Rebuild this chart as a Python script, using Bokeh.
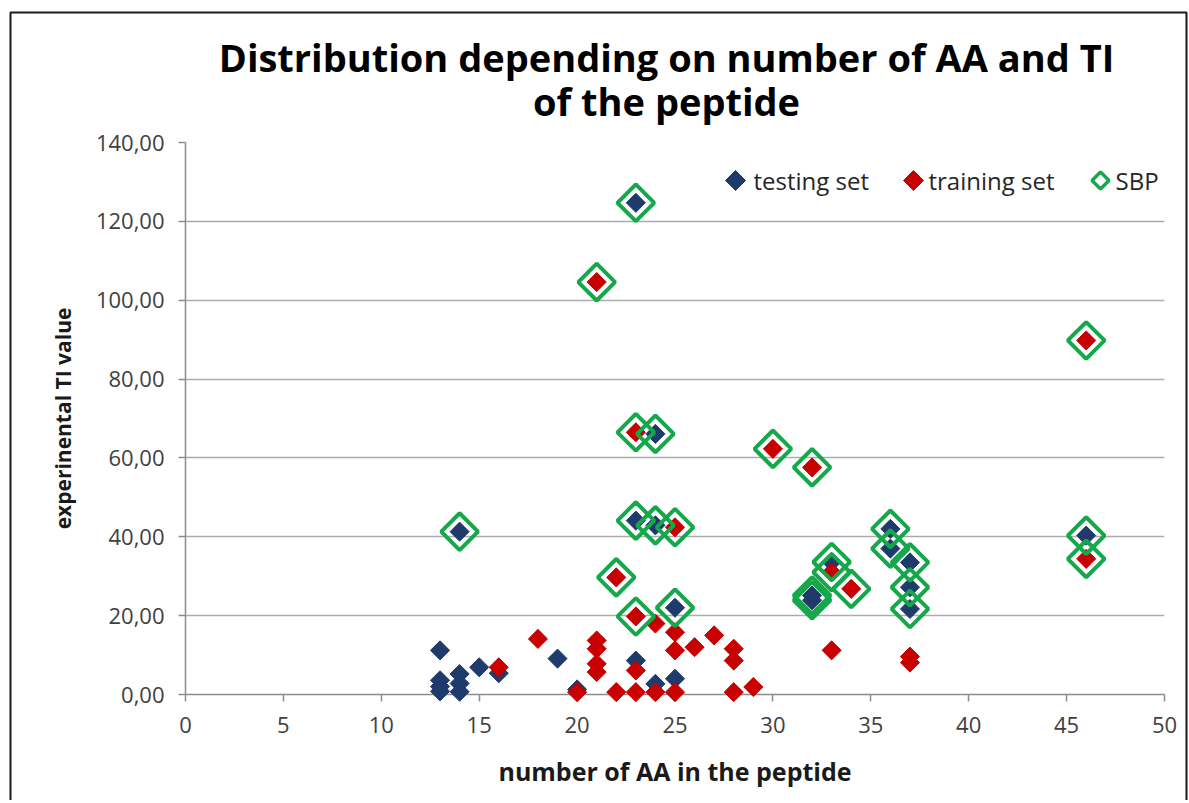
import math
from bokeh.plotting import figure
from bokeh.models import FixedTicker, Label, PolyAnnotation, Range1d
from bokeh.core.properties import value
from bokeh.embed import file_html
from bokeh.resources import INLINE

# ---------------- data ----------------
title_lines = ["Distribution depending on number of AA and TI", "of the peptide"]
x_label = "number of AA in the peptide"
y_label = "experinental TI value"
series_names = ["testing set", "training set", "SBP"]

testing_x = [13, 13, 13, 13, 14, 14, 14, 15, 16, 19, 20, 23, 24, 25,
             23, 24, 23, 24, 14, 25, 33, 32, 32, 36, 36, 37, 37, 37, 46]
testing_y = [11.2, 3.6, 2.0, 0.8, 5.2, 2.8, 0.7, 6.9, 5.4, 9.1, 1.3, 8.6, 2.7, 4.0,
             124.7, 66.1, 44.1, 42.9, 41.3, 22.0, 33.6, 25.1, 23.9, 42.0, 37.0, 33.5, 27.2, 21.7, 40.3]

training_x = [16, 18, 20, 21, 21, 21, 21, 22, 23, 23, 24, 24, 25, 25, 25, 26, 27,
              28, 28, 28, 29, 33, 37, 37,
              21, 46, 23, 30, 32, 25, 22, 23, 33, 34, 46]
training_y = [6.9, 14.1, 0.6, 13.7, 11.6, 7.8, 5.7, 0.6, 6.1, 0.6, 18.0, 0.6, 15.8, 11.2, 0.6, 12.0, 15.0,
              11.6, 8.6, 0.6, 1.9, 11.2, 9.6, 8.1,
              104.6, 89.8, 66.5, 62.3, 57.6, 42.4, 29.7, 19.8, 31.0, 26.8, 34.4]

sbp_x = [23, 21, 46, 23, 24, 30, 32, 23, 24, 25, 14, 36, 36, 46, 46, 37, 33,
         33, 22, 34, 37, 32, 32, 25, 37, 23]
sbp_y = [124.7, 104.6, 89.8, 66.5, 66.1, 62.3, 57.6, 44.1, 42.9, 42.4, 41.3, 42.0, 37.0, 40.3, 34.4, 33.5, 33.6,
         31.0, 29.7, 26.8, 27.2, 25.1, 23.9, 22.0, 21.7, 19.8]

x_ticks = [0, 5, 10, 15, 20, 25, 30, 35, 40, 45, 50]
y_ticks = [0, 20, 40, 60, 80, 100, 120, 140]
y_tick_labels = ["0,00", "20,00", "40,00", "60,00", "80,00", "100,00", "120,00", "140,00"]

# ---------------- style ----------------
BLUE = "#1F3B6B"
RED = "#C80000"
GREEN = "#14A84B"
FONT = "Open Sans"
TICK_COLOR = "#404040"
AXIS_COLOR = "#8C8C8C"
GRID_COLOR = "#ABABAB"

X0, X1, Y0, Y1 = 0, 50, 0, 140
W, H = 1188, 800
FL, FR, FT, FB = 185, 1164, 142, 694   # frame edges in canvas px


def px_to_x(px):
    return X0 + (px - FL) * (X1 - X0) / (FR - FL)


def py_to_y(py):
    return Y0 + (FB - py) * (Y1 - Y0) / (FB - FT)


p = figure(width=W, height=H, output_backend="svg", toolbar_location=None,
           x_range=Range1d(X0, X1), y_range=Range1d(Y0, Y1),
           min_border_left=FL, min_border_right=W - FR, min_border_top=FT, min_border_bottom=H - FB,
           background_fill_color="white", border_fill_color="white", outline_line_color=None)

p.xgrid.visible = False
p.ygrid.grid_line_color = GRID_COLOR
p.ygrid.grid_line_width = 1.5

p.xaxis.ticker = FixedTicker(ticks=x_ticks)
p.yaxis.ticker = FixedTicker(ticks=y_ticks)
p.yaxis.major_label_overrides = {t: l for t, l in zip(y_ticks, y_tick_labels)}

for ax in (p.xaxis[0], p.yaxis[0]):
    ax.axis_line_color = AXIS_COLOR
    ax.axis_line_width = 1.5
    ax.major_tick_line_color = AXIS_COLOR
    ax.major_tick_line_width = 1.5
    ax.major_tick_in = 0
    ax.major_tick_out = 7
    ax.minor_tick_line_color = None
    ax.major_label_text_font = FONT
    ax.major_label_text_font_size = "22px"
    ax.major_label_text_color = TICK_COLOR
    ax.axis_label_text_font = FONT
    ax.axis_label_text_font_style = "bold"
    ax.axis_label_text_color = "#1A1A1A"

p.xaxis.axis_label = x_label
p.xaxis.axis_label_text_font_size = "25px"
p.xaxis.major_label_standoff = 15
p.xaxis.axis_label_standoff = 18
p.yaxis.axis_label = y_label
p.yaxis.axis_label_text_font_size = "21px"
p.yaxis.major_label_standoff = 14
p.yaxis.axis_label_standoff = 16

ang = math.pi / 4
p.scatter(testing_x, testing_y, marker="square", size=13.5, angle=ang,
          fill_color=BLUE, line_color=BLUE, line_width=1, level="overlay")
p.scatter(training_x, training_y, marker="square", size=13.5, angle=ang,
          fill_color=RED, line_color=RED, line_width=1, level="overlay")
p.scatter(sbp_x, sbp_y, marker="square", size=26, angle=ang,
          fill_color=None, line_color=GREEN, line_width=4, level="overlay")

# title (two lines, drawn above the frame)
p.text(x=[px_to_x(666)] * 2, y=[py_to_y(56), py_to_y(100)], text=title_lines,
       text_font=value(FONT), text_font_size="38px", text_font_style="bold",
       text_color="#000000", text_align="center", text_baseline="alphabetic", level="overlay")

# legend
leg_cy = 180
leg_markers = [(735, BLUE, True), (913, RED, True), (1100, GREEN, False)]
leg_text_x = [753, 928, 1115]
for (cx, col, filled), tx, name in zip(leg_markers, leg_text_x, series_names):
    r = 10 if filled else 8.5
    p.add_layout(PolyAnnotation(xs=[cx - r, cx, cx + r, cx], ys=[leg_cy, leg_cy - r, leg_cy, leg_cy + r],
                                xs_units="canvas", ys_units="canvas",
                                fill_color=col if filled else None, fill_alpha=1.0 if filled else 0.0,
                                line_color=col, line_alpha=1.0, line_width=1 if filled else 3.5,
                                level="overlay"))
    p.add_layout(Label(x=tx, y=leg_cy, x_units="canvas", y_units="canvas", text=name,
                       text_font=FONT, text_font_size="24px", text_color="#262626",
                       text_align="left", text_baseline="middle", level="overlay"))

# outer chart border (left, top and right edges; bottom lies below the picture)
bx = [px_to_x(10), px_to_x(10), px_to_x(1186), px_to_x(1186)]
by = [py_to_y(830), py_to_y(12), py_to_y(12), py_to_y(830)]
p.line(bx, by, line_color="#1A1A1A", line_width=2, level="overlay")

open("out.html", "w").write(file_html(p, INLINE))
